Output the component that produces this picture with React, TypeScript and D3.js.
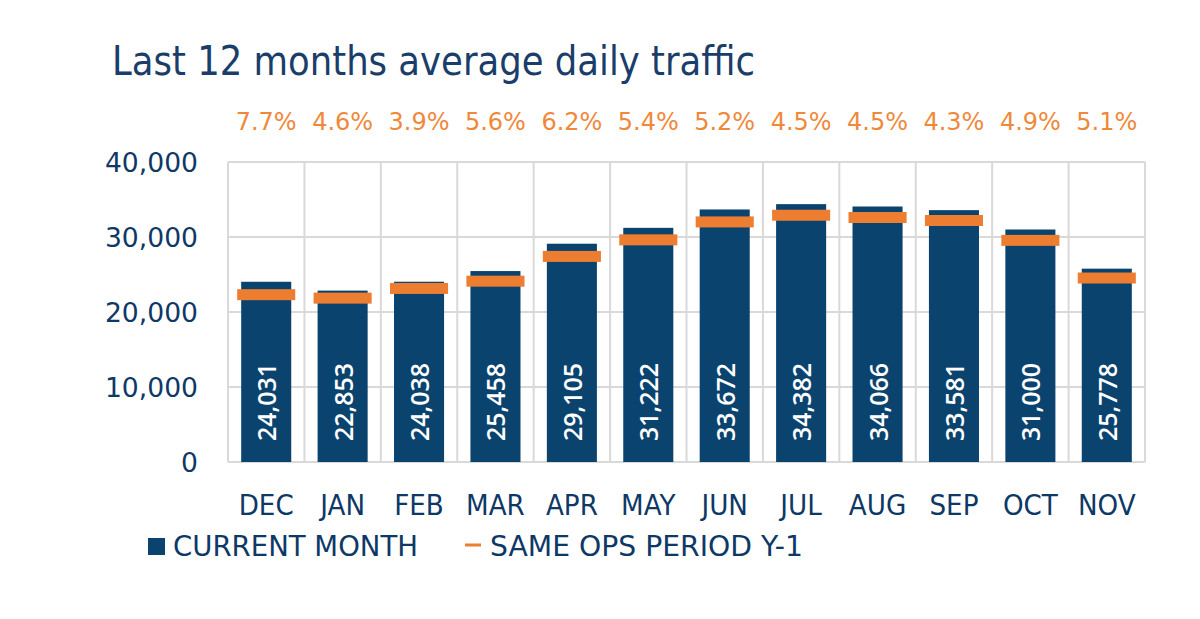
import React from "react";
import * as d3 from "d3";

const months = ["DEC", "JAN", "FEB", "MAR", "APR", "MAY", "JUN", "JUL", "AUG", "SEP", "OCT", "NOV"];
const currentMonth = [24031, 22853, 24038, 25458, 29105, 31222, 33672, 34382, 34066, 33581, 31000, 25778];
const samePeriodPrev = [22310, 21850, 23140, 24110, 27410, 29620, 32010, 32900, 32600, 32200, 29550, 24530];
const growthLabels = ["7.7%", "4.6%", "3.9%", "5.6%", "6.2%", "5.4%", "5.2%", "4.5%", "4.5%", "4.3%", "4.9%", "5.1%"];
const yTicks = [0, 10000, 20000, 30000, 40000];

const W = 1200;
const H = 619;
const plot = { left: 228, right: 1145, top: 162, bottom: 462 };

const NAVY = "#0b436f";
const ORANGE = "#ed7d31";
const TEXT = "#0e3866";
const GRID = "#d9d9d9";
const FONT = "'DejaVu Sans', Verdana, sans-serif";

export default function App() {
  const x = d3.scaleBand<string>().domain(months).range([plot.left, plot.right]).padding(0);
  const y = d3.scaleLinear().domain([0, 40000]).range([plot.bottom, plot.top]);
  const bw = x.bandwidth();
  const barW = bw * 0.655;
  const markW = bw * 0.76;
  const markH = 11;
  const fmt = d3.format(",");

  return (
    <svg width={W} height={H} style={{ position: "absolute", left: 0, top: 0, background: "#fff" }}>
      {/* title */}
      <text x={112} y={75} fontFamily={FONT} fontSize={40} fill="#1a3d6a" textLength={643} lengthAdjust="spacingAndGlyphs">
        Last 12 months average daily traffic
      </text>

      {/* growth labels */}
      {growthLabels.map((g, i) => (
        <text key={"g" + i} x={x(months[i])! + bw / 2} y={130} textAnchor="middle" fontFamily={FONT} fontSize={24} fill="#f0883a">
          {g}
        </text>
      ))}

      {/* horizontal gridlines */}
      {yTicks.map((t) => (
        <line key={"h" + t} x1={plot.left} x2={plot.right} y1={y(t)} y2={y(t)} stroke={GRID} strokeWidth={2} />
      ))}
      {/* vertical gridlines */}
      {months.map((m) => (
        <line key={"v" + m} x1={x(m)!} x2={x(m)!} y1={plot.top} y2={plot.bottom} stroke={GRID} strokeWidth={2} />
      ))}
      <line x1={plot.right} x2={plot.right} y1={plot.top} y2={plot.bottom} stroke={GRID} strokeWidth={2} />

      {/* y tick labels */}
      {yTicks.map((t) => (
        <text key={"yt" + t} x={198} y={y(t)} dy="0.36em" textAnchor="end" fontFamily={FONT} fontSize={26.6} fill={TEXT}>
          {fmt(t)}
        </text>
      ))}

      {/* bars */}
      {currentMonth.map((v, i) => {
        const cx = x(months[i])! + bw / 2;
        return (
          <rect key={"b" + i} x={cx - barW / 2} y={y(v)} width={barW} height={y(0) - y(v)} fill={NAVY} />
        );
      })}

      {/* previous year markers */}
      {samePeriodPrev.map((v, i) => {
        const cx = x(months[i])! + bw / 2;
        return (
          <rect key={"p" + i} x={cx - markW / 2} y={y(v) - markH / 2} width={markW} height={markH} fill={ORANGE} />
        );
      })}

      {/* value labels */}
      {currentMonth.map((v, i) => {
        const cx = x(months[i])! + bw / 2 + 1;
        const by = 441;
        return (
          <text
            key={"vl" + i}
            transform={`translate(${cx},${by}) rotate(-90)`}
            x={0}
            y={0}
            dy="0.36em"
            fontFamily="'Open Sans', 'Noto Sans', sans-serif"
            fontSize={25}
            fontWeight={600}
            fill="#ffffff"
            textLength={78}
            lengthAdjust="spacingAndGlyphs"
          >
            {fmt(v)}
          </text>
        );
      })}

      {/* month labels */}
      {months.map((m) => {
        const cx = x(m)! + bw / 2;
        return (
          <text
            key={"m" + m}
            transform={`translate(${cx},515) scale(0.92,1)`}
            textAnchor="middle"
            fontFamily={FONT}
            fontSize={28.5}
            fill={TEXT}
          >
            {m}
          </text>
        );
      })}

      {/* legend */}
      <rect x={148} y={538} width={17} height={17} fill={NAVY} />
      <text x={173} y={556} fontFamily={FONT} fontSize={28.5} fill={TEXT} textLength={245} lengthAdjust="spacingAndGlyphs">
        CURRENT MONTH
      </text>
      <rect x={465} y={543.5} width={16} height={3} fill={ORANGE} />
      <text x={490} y={556} fontFamily={FONT} fontSize={28.5} fill={TEXT} textLength={313} lengthAdjust="spacingAndGlyphs">
        SAME OPS PERIOD Y-1
      </text>
    </svg>
  );
}
